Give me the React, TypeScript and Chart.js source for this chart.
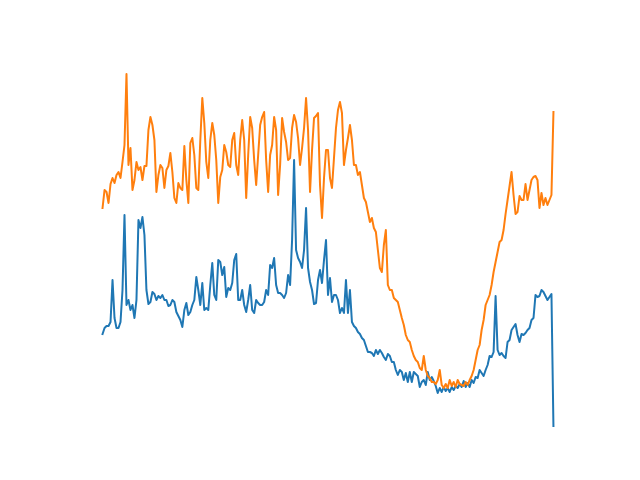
import React, { useEffect, useRef } from "react";
import { Chart, registerables } from "chart.js";

Chart.register(...registerables);

// Series values, read downward from the top of the plotted range (0 = bottom of axes after conversion)
const baseLevel = 427;
const seriesARaw: number[] = [
  334, 328, 326, 326, 322, 280, 318, 328, 328, 322,
  290, 215, 305, 300, 310, 305, 318, 300, 220, 228,
  217, 235, 290, 304, 302, 292, 294, 300, 296, 298,
  295, 300, 300, 306, 305, 300, 302, 312, 316, 320,
  327, 310, 303, 315, 312, 305, 300, 277, 290, 305,
  283, 310, 308, 310, 285, 263, 295, 300, 260, 262,
  275, 267, 297, 288, 290, 283, 260, 254, 300, 300,
  290, 305, 312, 300, 285, 310, 313, 300, 303, 305,
  305, 302, 290, 295, 265, 268, 258, 285, 293, 293,
  295, 298, 293, 275, 285, 240, 160, 250, 258, 262,
  268, 250, 208, 268, 282, 290, 304, 303, 280, 270,
  283, 260, 240, 295, 278, 302, 295, 295, 300, 313,
  308, 313, 280, 313, 290, 322, 326, 328, 332, 334,
  338, 340, 346, 352, 352, 353, 356, 350, 354, 350,
  353, 357, 360, 354, 356, 362, 362, 370, 375, 370,
  372, 380, 373, 382, 372, 382, 372, 374, 376, 387,
  382, 380, 385, 372, 380, 377, 381, 386, 393, 388,
  392, 387, 391, 388, 392, 387, 390, 386, 388, 384,
  387, 381, 387, 383, 387, 380, 383, 377, 378, 370,
  373, 376, 370, 365, 356, 357, 352, 296, 350, 355,
  353, 356, 358, 342, 340, 330, 327, 324, 335, 342,
  334, 335, 333, 330, 328, 320, 318, 295, 297, 296,
  290, 292, 296, 300, 297, 294, 427,
];

const seriesBRaw: number[] = [
  208, 190, 192, 203, 184, 178, 183, 175, 172, 178,
  162, 145, 74, 165, 148, 190, 180, 162, 170, 167,
  180, 166, 166, 130, 117, 125, 140, 192, 175, 165,
  168, 188, 170, 166, 153, 172, 198, 203, 183, 188,
  190, 146, 180, 203, 143, 138, 155, 188, 190, 140,
  98, 123, 162, 178, 140, 123, 135, 160, 203, 177,
  170, 145, 152, 165, 167, 140, 133, 165, 175, 140,
  120, 140, 198, 155, 117, 128, 160, 185, 155, 125,
  117, 112, 160, 192, 155, 145, 117, 130, 195, 165,
  118, 132, 142, 160, 158, 128, 115, 122, 138, 165,
  148, 128, 98, 130, 192, 150, 118, 116, 113, 185,
  218, 178, 150, 150, 178, 188, 158, 128, 110, 102,
  113, 165, 150, 138, 125, 140, 165, 165, 175, 172,
  185, 198, 202, 212, 222, 218, 228, 232, 250, 268,
  272, 245, 230, 285, 290, 290, 298, 300, 302, 310,
  318, 325, 335, 340, 342, 350, 356, 360, 362, 368,
  370, 356, 370, 376, 378, 382, 382, 384, 380, 370,
  385, 388, 384, 388, 380, 386, 382, 387, 380, 384,
  385, 386, 382, 385, 380, 376, 370, 360, 350, 345,
  330, 320, 305, 300, 295, 285, 272, 262, 252, 242,
  240, 230, 214, 200, 186, 172, 195, 214, 212, 196,
  200, 200, 184, 200, 190, 180, 177, 176, 180, 208,
  193, 205, 198, 205, 200, 195, 112,
];

const seriesA: number[] = seriesARaw.map((v) => baseLevel - v);
const seriesB: number[] = seriesBRaw.map((v) => baseLevel - v);
const categories: number[] = seriesA.map((_, i) => i);

export default function App() {
  const ref = useRef<HTMLCanvasElement | null>(null);

  useEffect(() => {
    if (!ref.current) return;
    const n = categories.length - 1;
    const chart = new Chart(ref.current, {
      type: "line",
      data: {
        datasets: [
          {
            data: categories.map((c, i) => ({ x: c, y: seriesA[i] })),
            borderColor: "#1f77b4",
            borderWidth: 2,
            pointRadius: 0,
            tension: 0,
            borderJoinStyle: "round",
            borderCapStyle: "square",
            order: 2,
          },
          {
            data: categories.map((c, i) => ({ x: c, y: seriesB[i] })),
            borderColor: "#ff7f0e",
            borderWidth: 2,
            pointRadius: 0,
            tension: 0,
            borderJoinStyle: "round",
            borderCapStyle: "square",
            order: 1,
          },
        ],
      },
      options: {
        animation: false,
        responsive: false,
        maintainAspectRatio: false,
        layout: { padding: { left: 80, right: 64, top: 58, bottom: 53 } },
        plugins: { legend: { display: false }, tooltip: { enabled: false } },
        scales: {
          x: { type: "linear", display: false, min: -0.05 * n, max: 1.05 * n },
          y: { type: "linear", display: false, min: 0, max: 369 },
        },
      },
    });
    return () => chart.destroy();
  }, []);

  return (
    <div style={{ position: "absolute", left: 0, top: 0, width: 640, height: 480, background: "#fff" }}>
      <canvas ref={ref} width={640} height={480} style={{ width: 640, height: 480 }} />
    </div>
  );
}
